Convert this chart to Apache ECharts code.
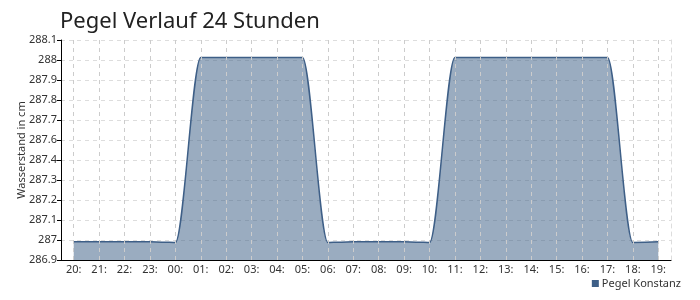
<!DOCTYPE html>
<html><head><meta charset="utf-8">
<script src="https://cdn.jsdelivr.net/npm/echarts@6/dist/echarts.min.js"></script>
<style>html,body{margin:0;padding:0;background:#fff}#c{width:700px;height:300px}</style>
</head><body><div id="c"></div>
<script>
var categories = ['20:','21:','22:','23:','00:','01:','02:','03:','04:','05:','06:','07:','08:','09:','10:','11:','12:','13:','14:','15:','16:','17:','18:','19:'];
var pegelValues = [287.0,287.0,287.0,287.0,286.995,288.005,288.005,288.005,288.005,288.005,286.995,287.0,287.0,287.0,286.995,288.005,288.005,288.005,288.005,288.005,288.005,288.005,286.995,287.0];
var yMin = 286.9, yMax = 288.1, yTickCount = 11;
var font = 'Noto Sans';
var chart = echarts.init(document.getElementById('c'));
chart.setOption({
  animation:false,
  textStyle:{fontFamily:font},
  title:{text:'Pegel Verlauf 24 Stunden',left:55,top:6,textStyle:{fontFamily:font,fontSize:22,fontWeight:'normal',color:'#222'}},
  legend:{right:14,bottom:6,itemWidth:7,itemHeight:7,itemGap:4,icon:'rect',textStyle:{fontFamily:font,fontSize:11,color:'#333',padding:[0,0,0,-2]},data:['Pegel Konstanz']},
  grid:{left:61,right:29,top:40,bottom:40},
  xAxis:{type:'category',data:categories,boundaryGap:true,
    axisLine:{lineStyle:{color:'#000',width:1}},
    axisTick:{alignWithLabel:true,length:3,lineStyle:{color:'#000'}},
    axisLabel:{color:'#333',fontSize:11,margin:4,interval:0},
    splitLine:{show:false}},
  yAxis:[{type:'value',min:yMin,max:yMax,interval:(yMax-yMin)/yTickCount,
    name:'Wasserstand in cm',nameLocation:'middle',nameGap:34,nameMoveOverlap:false,nameTextStyle:{fontSize:11,color:'#333'},
    axisLine:{show:true,lineStyle:{color:'#000'}},
    axisTick:{show:true,length:4,lineStyle:{color:'#000'}},
    axisLabel:{color:'#333',fontSize:11,margin:4,formatter:function(v){return String(Math.round(v*10)/10);}},
    splitLine:{lineStyle:{color:'#ddd',type:[4,4]}}},
   {type:'value',position:'right',min:yMin,max:yMax,axisLine:{show:true,lineStyle:{color:'#ddd',type:[4,4]}},axisTick:{show:false},axisLabel:{show:false},splitLine:{show:false}}],
  series:[{name:'Pegel Konstanz',type:'line',data:pegelValues,smooth:0.18,symbol:'none',
    itemStyle:{color:'#3e5f87'},
    lineStyle:{color:'#3e5f87',width:1.5},
    areaStyle:{color:'rgba(62,95,135,0.52)',opacity:1,origin:'start'},
    markLine:{silent:true,symbol:'none',label:{show:false},lineStyle:{color:'#ccc',type:[4,4],width:1},
      data:categories.map(function(c){return {xAxis:c};})}
  }]
});
</script></body></html>
